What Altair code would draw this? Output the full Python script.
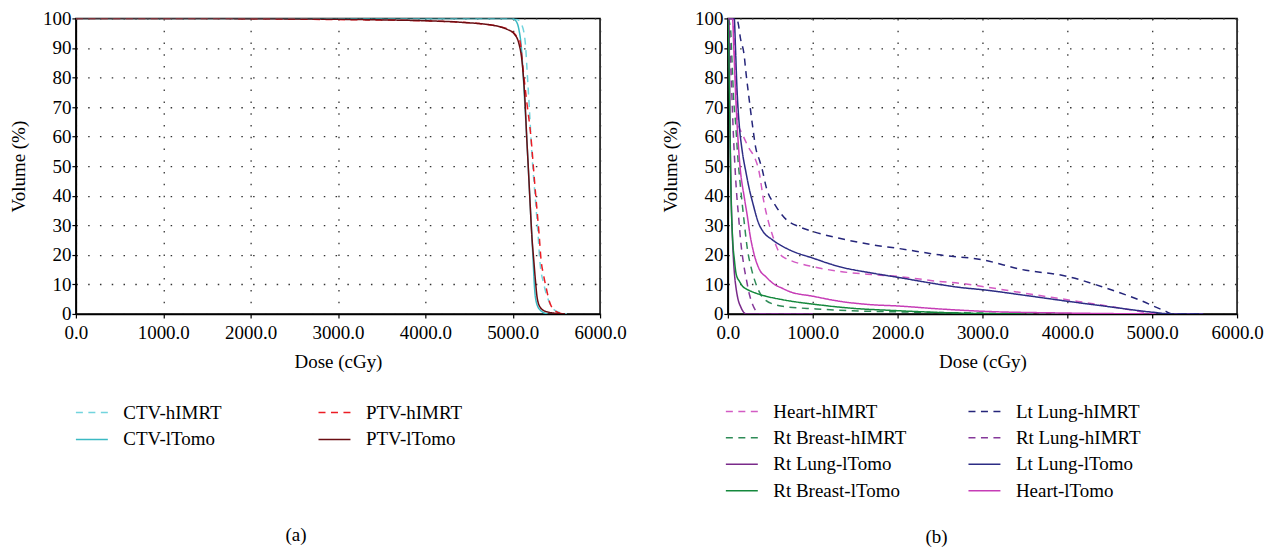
import altair as alt
import pandas as pd

# ---------------- Panel (a): target DVHs ----------------
ctv_himrt_dose = [0, 4900, 5051, 5109, 5147, 5166, 5190, 5218, 5267, 5290, 5311, 5357, 5413, 5470, 5547, 5620]
ctv_himrt_vol = [100, 100, 99.6, 97.4, 90.8, 81.7, 70, 55, 36, 27, 17.9, 10, 4.4, 1.5, 0.4, 0]

ctv_ltomo_dose = [0, 4994, 5032, 5070, 5097, 5120, 5141, 5160, 5179, 5200, 5220, 5234, 5250, 5272, 5318, 5400]
ctv_ltomo_vol = [100, 100, 99.3, 96.4, 90.8, 81, 70, 60, 49, 37, 26, 17.9, 8.8, 3.8, 1.2, 0]

ptv_himrt_dose = [0, 1000, 2000, 3000, 4000, 4500, 4823, 4970, 5046, 5082, 5120, 5160, 5206, 5256, 5302, 5326, 5351, 5375, 5425, 5489, 5580]
ptv_himrt_vol = [100, 100, 99.9, 99.6, 99.2, 98.5, 97.4, 96, 94, 92.4, 82.5, 72, 60.7, 42.7, 27, 17.9, 13.5, 10, 3.8, 1, 0]

ptv_ltomo_dose = [0, 1000, 2000, 3000, 3500, 4000, 4400, 4823, 4937, 5013, 5070, 5109, 5141, 5160, 5179, 5200, 5218, 5242, 5261, 5280, 5318, 5394, 5600]
ptv_ltomo_vol = [100, 100, 99.9, 99.7, 99.5, 99.2, 98.7, 97.4, 96.3, 94.9, 91.6, 84.8, 72, 60, 49.4, 37, 27, 17.9, 11.1, 5.5, 2.1, 0.7, 0]

# ---------------- Panel (b): organs at risk ----------------
heart_himrt_dose = [0, 60, 80, 100, 125, 169, 250, 314, 365, 424, 480, 522, 570, 608, 680, 765, 1000, 1314, 1706, 2000, 2490, 2725, 3000, 3500, 4000, 4451, 4843, 5039, 5600]
heart_himrt_vol = [100, 100, 88, 75, 64, 61, 56, 53, 48.5, 38, 31, 27, 23, 20.6, 18.8, 17.8, 16, 14.4, 13.3, 12.7, 11, 10.4, 9.3, 7, 4.8, 2.8, 0.9, 0, 0]

ltlung_himrt_dose = [0, 105, 122, 150, 189, 216, 247, 294, 330, 373, 404, 451, 565, 686, 843, 1000, 1314, 1706, 2000, 2490, 3000, 3471, 4000, 4451, 4843, 5157, 5235, 5600]
ltlung_himrt_vol = [100, 100, 98.3, 93, 88.2, 81, 73.6, 63, 56, 52, 49, 43, 36.5, 32, 29.5, 27.9, 25.6, 23.4, 22.2, 20, 18.3, 15, 12.7, 8.8, 4.8, 0.9, 0, 0]

rtbreast_himrt_dose = [0, 30, 50, 70, 90, 120, 149, 189, 230, 280, 333, 400, 451, 550, 647, 1039, 1431, 2000, 3000, 4000]
rtbreast_himrt_vol = [100, 97, 85, 72, 65, 52, 43, 32, 22, 15, 10, 6, 4.5, 3.2, 2.6, 1.7, 1.1, 0.7, 0.3, 0]

rtlung_himrt_dose = [0, 20, 40, 59, 98, 129, 150, 185, 216, 255, 294, 330, 360, 1000]
rtlung_himrt_vol = [100, 95, 80, 65, 43, 32, 25, 17, 12, 6.5, 3, 1, 0, 0]

rtlung_ltomo_dose = [0, 12, 20, 27, 39, 51, 65, 78, 98, 118, 150, 176, 216, 1000]
rtlung_ltomo_vol = [100, 100, 80, 61, 40, 28, 19, 13.5, 8.5, 5.2, 2.5, 1, 0, 0]

ltlung_ltomo_dose = [0, 75, 90, 105, 137, 165, 216, 247, 294, 365, 412, 529, 725, 1000, 1314, 1706, 2000, 2490, 2725, 3000, 3500, 4000, 4451, 5000, 5235, 5600]
ltlung_ltomo_vol = [100, 100, 90, 78, 63, 56, 47.5, 43, 37.5, 30.5, 28, 25, 21.7, 18.9, 16, 13.8, 12.4, 10, 9, 8.2, 6.3, 4.3, 2.6, 0.6, 0, 0]

rtbreast_ltomo_dose = [0, 10, 20, 30, 39, 55, 78, 98, 137, 176, 216, 333, 450, 647, 1039, 1431, 2000, 2725, 3500]
rtbreast_ltomo_vol = [100, 90, 72, 52, 38.5, 26, 18, 13.5, 11, 9.3, 8.5, 7, 6, 4.8, 3.2, 2, 1.1, 0.3, 0]

heart_ltomo_dose = [0, 55, 70, 95, 137, 196, 230, 260, 294, 373, 451, 529, 647, 725, 1000, 1314, 1706, 2000, 2490, 2725, 3000, 4000, 5000]
heart_ltomo_vol = [100, 100, 90, 72, 52, 39, 33, 27, 22, 15, 12.5, 10.4, 8.6, 7.6, 6, 4.3, 3.1, 2.7, 1.7, 1.3, 0.9, 0.3, 0]

# legend order (filled column by column, two columns)
order_a = ["CTV-hIMRT", "CTV-lTomo", "PTV-hIMRT", "PTV-lTomo"]
colors_a = ["#72d4dd", "#3bb9c3", "#ec1c24", "#6a0d12"]
dashes_a = [[7, 5.5], [1, 0], [7, 5.5], [1, 0]]

order_b = ["Heart-hIMRT", "Rt Breast-hIMRT", "Rt Lung-lTomo", "Rt Breast-lTomo",
           "Lt Lung-hIMRT", "Rt Lung-hIMRT", "Lt Lung-lTomo", "Heart-lTomo"]
colors_b = ["#d35bc4", "#2e8b57", "#7a2a8a", "#14883c",
            "#25257a", "#85389a", "#2c2c84", "#c63cb6"]
dashes_b = [[7, 5.5], [7, 5.5], [1, 0], [1, 0], [7, 5.5], [7, 5.5], [1, 0], [1, 0]]

x_ticks = [0, 1000, 2000, 3000, 4000, 5000, 6000]
y_ticks = [0, 10, 20, 30, 40, 50, 60, 70, 80, 90, 100]


def frame(series):
    rows = []
    for name, dose, vol in series:
        for d, v in zip(dose, vol):
            rows.append({"series": name, "dose": d, "vol": v})
    return pd.DataFrame(rows)


df_a = frame([
    ("CTV-hIMRT", ctv_himrt_dose, ctv_himrt_vol),
    ("CTV-lTomo", ctv_ltomo_dose, ctv_ltomo_vol),
    ("PTV-hIMRT", ptv_himrt_dose, ptv_himrt_vol),
    ("PTV-lTomo", ptv_ltomo_dose, ptv_ltomo_vol),
])
df_b = frame([
    ("Heart-hIMRT", heart_himrt_dose, heart_himrt_vol),
    ("Lt Lung-hIMRT", ltlung_himrt_dose, ltlung_himrt_vol),
    ("Rt Breast-hIMRT", rtbreast_himrt_dose, rtbreast_himrt_vol),
    ("Rt Lung-hIMRT", rtlung_himrt_dose, rtlung_himrt_vol),
    ("Rt Lung-lTomo", rtlung_ltomo_dose, rtlung_ltomo_vol),
    ("Lt Lung-lTomo", ltlung_ltomo_dose, ltlung_ltomo_vol),
    ("Rt Breast-lTomo", rtbreast_ltomo_dose, rtbreast_ltomo_vol),
    ("Heart-lTomo", heart_ltomo_dose, heart_ltomo_vol),
])

FONT = "Liberation Serif"
FS = 19


def panel(df, order, colors, dashes, caption, width, lx, ly, colpad, rowpad, cap_dx, cap_off):
    leg = alt.Legend(
        title=None, orient="none", legendX=lx, legendY=ly, columns=2,
        columnPadding=colpad, rowPadding=rowpad, padding=0,
        symbolType="M-1.28,0L1.28,0", symbolSize=625, symbolStrokeWidth=1.5,
        symbolOffset=2.5, labelOffset=18,
        labelFont=FONT, labelFontSize=FS, labelColor="black", labelLimit=300,
    )
    x_axis = alt.Axis(values=x_ticks, format=".1f", title="Dose (cGy)", labelFlush=False,
                      labelOverlap=False, labelFont=FONT, labelFontSize=FS, titleFont=FONT,
                      titleFontSize=FS, titlePadding=10, labelPadding=6)
    y_axis = alt.Axis(values=y_ticks, title="Volume (%)", labelFlush=False, labelOverlap=False,
                      labelFont=FONT, labelFontSize=FS, titleFont=FONT, titleFontSize=FS,
                      titlePadding=14, labelPadding=1)
    return alt.Chart(df).mark_line(strokeWidth=1.5, interpolate="monotone", clip=True).encode(
        x=alt.X("dose:Q", scale=alt.Scale(domain=[0, 6000], nice=False), axis=x_axis),
        y=alt.Y("vol:Q", scale=alt.Scale(domain=[0, 100], nice=False), axis=y_axis),
        color=alt.Color("series:N", sort=order, scale=alt.Scale(domain=order, range=colors), legend=leg),
        strokeDash=alt.StrokeDash("series:N", sort=order, scale=alt.Scale(domain=order, range=dashes), legend=leg),
        order=alt.Order("dose:Q"),
    ).properties(
        width=width, height=296,
        title=alt.TitleParams(caption, orient="bottom", anchor="middle", font=FONT, fontSize=FS,
                              fontWeight="normal", color="black", dx=cap_dx, offset=cap_off),
    )


left = panel(df_a, order_a, colors_a, dashes_a, "(a)", 525, 0, 381, 94, 3.2, -42, 76)
right = panel(df_b, order_b, colors_b, dashes_b, "(b)", 510, -2, 380, 59, 2.5, -46, 27)

chart = alt.hconcat(left, right, spacing=33).resolve_scale(
    color="independent", strokeDash="independent"
).properties(
    padding={"left": 0, "top": 0, "right": 5, "bottom": 0}
).configure_view(
    stroke="black", strokeWidth=1.5
).configure_axis(
    domainColor="black", domainWidth=1.5, tickColor="black", tickSize=4, tickWidth=1.2,
    labelColor="black", titleFontWeight="normal", titleColor="black",
    gridColor="#333333", gridDash=[1.5, 10.3], gridWidth=1.3, gridOpacity=1,
)

chart.save("out.html", embed_options={"renderer": "svg", "actions": False})
